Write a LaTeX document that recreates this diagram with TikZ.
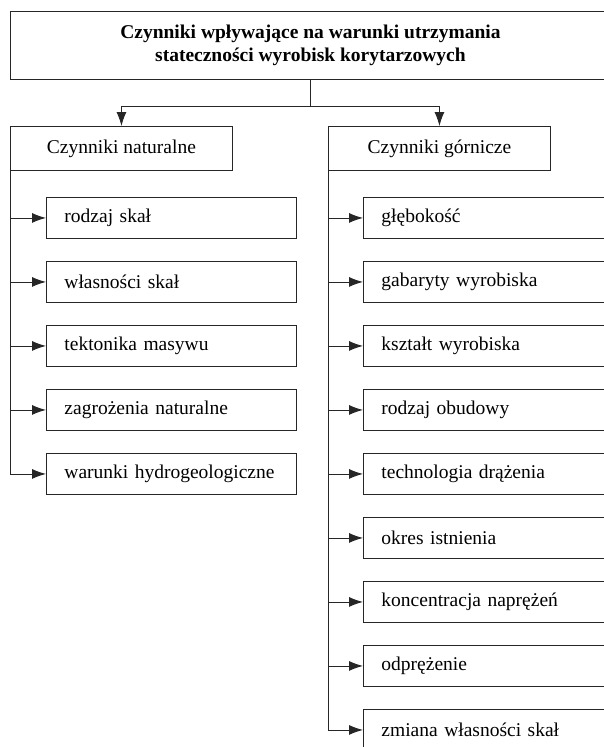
\documentclass[tikz,border=0pt]{standalone}
\usepackage{fontspec}
\setmainfont{Liberation Serif}
\usetikzlibrary{arrows.meta}
\begin{document}
\begin{tikzpicture}[x=1pt,y=-1pt,
  line width=0.9pt,
  every node/.style={font=\fontsize{19.5}{23}\selectfont},
  box/.style={draw=black!85, line width=0.9pt, anchor=north west, inner ysep=0pt},
  item/.style={box, minimum height=41pt, text width=300pt, inner xsep=0pt, align=left,
    execute at begin node=\hspace*{18pt}},
  head/.style={box, minimum height=44pt, minimum width=222pt, inner xsep=0pt, align=center},
  arr/.style={draw=black!85, -{Latex[length=14pt,width=10pt]}},
  ln/.style={draw=black!85}]
\clip (0,0) rectangle (604,747);
% title
\node[box, minimum width=660pt, minimum height=68pt, inner xsep=0pt, align=center, font=\fontsize{19.5}{23}\selectfont\bfseries] (top) at (10,11)
  {\hspace*{-60pt}Czynniki wpływające na warunki utrzymania\\\hspace*{-60pt}stateczności wyrobisk korytarzowych};
% headings
\node[head] (nat) at (10,126) {Czynniki naturalne};
\node[head] (gor) at (328,126) {Czynniki górnicze};
% left items
\node[item, text width=250pt] (l1) at (46,197) {rodzaj skał};
\node[item, text width=250pt] (l2) at (46,261) {własności skał};
\node[item, text width=250pt] (l3) at (46,325) {tektonika masywu};
\node[item, text width=250pt] (l4) at (46,389) {zagrożenia naturalne};
\node[item, text width=250pt] (l5) at (46,453) {warunki hydrogeologiczne};
% right items
\node[item] (r1) at (363,197) {głębokość};
\node[item] (r2) at (363,261) {gabaryty wyrobiska};
\node[item] (r3) at (363,325) {kształt wyrobiska};
\node[item] (r4) at (363,389) {rodzaj obudowy};
\node[item] (r5) at (363,453) {technologia drążenia};
\node[item] (r6) at (363,517) {okres istnienia};
\node[item] (r7) at (363,581) {koncentracja naprężeń};
\node[item] (r8) at (363,645) {odprężenie};
\node[item] (r9) at (363,709) {zmiana własności skał};
% top connectors
\coordinate (split) at (310,106);
\draw[ln] (top.south -| split) -- (split);
\draw[arr] (split) -| (nat.north);
\draw[arr] (split) -| (gor.north);
% left trunk
\draw[arr] (nat.south west) |- (l5.west);
\foreach \n in {l1,l2,l3,l4}
  \draw[arr] (nat.south west |- \n.west) -- (\n.west);
% right trunk
\draw[arr] (gor.south west) |- (r9.west);
\foreach \n in {r1,r2,r3,r4,r5,r6,r7,r8}
  \draw[arr] (gor.south west |- \n.west) -- (\n.west);
\end{tikzpicture}
\end{document}
